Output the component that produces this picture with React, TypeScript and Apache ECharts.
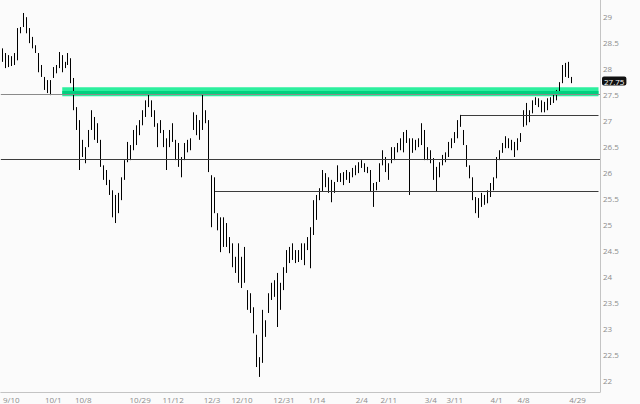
import React, { useEffect, useRef } from "react";
import * as echarts from "echarts";

// Each bar: [open, close, low, high]
const barsSep: number[][] = [
  [28.30, 28.18, 28.12, 28.38], [28.18, 28.10, 28.00, 28.29], [28.10, 28.15, 28.02, 28.25], [28.15, 28.10, 28.04, 28.23],
  [28.10, 28.22, 28.06, 28.29], [28.20, 28.72, 28.15, 28.77], [28.72, 28.75, 28.67, 28.79], [28.80, 29.00, 28.79, 29.06],
  [28.95, 28.72, 28.67, 28.98], [28.72, 28.52, 28.48, 28.77], [28.52, 28.42, 28.38, 28.60], [28.42, 28.32, 28.29, 28.44],
  [28.28, 27.98, 27.92, 28.29], [27.98, 27.88, 27.83, 28.06], [27.80, 27.62, 27.58, 27.83], [27.62, 27.70, 27.52, 27.77],
  [27.70, 27.72, 27.48, 27.77], [27.84, 27.98, 27.81, 28.02], [27.98, 27.95, 27.90, 28.06], [28.02, 28.25, 28.00, 28.31],
  [28.22, 28.05, 27.92, 28.25], [28.05, 28.08, 28.00, 28.12], [28.08, 28.22, 28.06, 28.29], [28.18, 27.76, 27.71, 28.19],
];
const barsOct: number[][] = [
  [27.76, 27.25, 27.19, 27.81], [27.22, 26.90, 26.81, 27.25], [26.95, 26.40, 26.04, 27.00], [26.40, 26.50, 26.29, 26.62],
  [26.45, 26.30, 26.17, 26.48], [26.50, 26.75, 26.48, 26.81], [26.85, 27.10, 26.81, 27.19], [27.02, 26.70, 26.62, 27.06],
  [26.72, 26.88, 26.56, 26.94], [26.60, 26.15, 26.10, 26.62], [26.12, 25.92, 25.85, 26.13], [25.95, 25.80, 25.75, 26.04],
  [25.82, 25.60, 25.56, 25.85], [25.60, 25.20, 25.13, 25.65], [25.20, 25.45, 25.02, 25.56], [25.45, 25.30, 25.21, 25.60],
  [25.50, 25.85, 25.46, 25.90], [25.88, 26.18, 25.85, 26.23], [26.20, 26.50, 26.19, 26.58], [26.48, 26.30, 26.23, 26.52],
  [26.45, 26.75, 26.42, 26.81], [26.75, 26.60, 26.52, 26.90], [26.72, 26.95, 26.71, 27.00], [26.95, 27.15, 26.90, 27.19],
];
const barsNov: number[][] = [
  [27.10, 27.32, 27.06, 27.38], [27.32, 27.40, 27.25, 27.52], [27.35, 27.10, 27.06, 27.38], [27.12, 26.92, 26.87, 27.19],
  [26.90, 26.55, 26.48, 26.94], [26.78, 26.95, 26.75, 27.00], [26.78, 26.55, 26.48, 26.81], [26.60, 26.50, 26.04, 26.65],
  [26.52, 26.75, 26.48, 26.81], [26.75, 26.88, 26.58, 26.94], [26.60, 26.30, 26.23, 26.62], [26.30, 26.50, 26.10, 26.56],
  [26.25, 25.98, 25.90, 26.29], [26.25, 26.50, 26.23, 26.56], [26.50, 26.45, 26.38, 26.62], [26.45, 26.60, 26.42, 26.65],
  [26.85, 27.10, 26.81, 27.15], [27.05, 26.78, 26.71, 27.10], [26.80, 26.95, 26.62, 27.00], [26.95, 27.30, 26.81, 27.52],
  [27.15, 27.00, 26.94, 27.19], [26.98, 26.10, 26.00, 27.00],
];
const barsDec: number[][] = [
  [25.90, 25.40, 24.94, 25.94], [25.40, 25.30, 25.21, 25.90], [25.20, 25.00, 24.88, 25.21], [25.00, 24.70, 24.46, 25.13],
  [24.70, 25.00, 24.56, 25.13], [24.95, 24.65, 24.56, 25.02], [24.65, 24.50, 24.44, 24.75], [24.55, 24.25, 24.17, 24.63],
  [24.25, 24.10, 24.06, 24.37], [24.10, 24.55, 23.87, 24.63], [24.30, 23.85, 23.77, 24.37], [23.90, 24.40, 23.87, 24.56],
  [23.70, 23.45, 23.35, 23.73], [23.45, 23.35, 23.29, 23.67], [23.35, 22.95, 22.90, 23.40], [22.85, 22.35, 22.25, 22.87],
  [22.35, 22.15, 22.06, 22.44], [22.40, 23.25, 22.33, 23.35], [23.10, 22.90, 22.83, 23.15], [23.30, 23.60, 23.29, 23.67],
  [23.60, 23.80, 23.54, 23.87], [23.80, 23.70, 23.60, 23.92], [23.70, 23.95, 23.02, 24.06], [23.80, 23.45, 23.35, 23.87],
  [23.78, 24.10, 23.73, 24.17], [24.10, 24.42, 24.06, 24.50], [24.42, 24.30, 24.25, 24.56], [24.35, 24.55, 24.31, 24.63],
];
const barsJan: number[][] = [
  [24.50, 24.32, 24.25, 24.50], [24.35, 24.45, 24.27, 24.50], [24.40, 24.58, 24.31, 24.63], [24.58, 24.30, 24.21, 24.63],
  [24.52, 24.70, 24.50, 24.75], [24.70, 24.85, 24.15, 24.94], [24.85, 25.35, 24.79, 25.46], [25.35, 25.45, 25.08, 25.56],
  [25.50, 25.62, 25.46, 25.69], [25.65, 25.95, 25.62, 26.04], [25.95, 25.78, 25.71, 25.98], [25.78, 25.70, 25.60, 25.90],
  [25.70, 25.55, 25.42, 25.85], [25.62, 25.75, 25.60, 25.81], [25.85, 26.05, 25.81, 26.13], [25.95, 25.88, 25.81, 25.98],
  [25.88, 25.95, 25.75, 26.00], [25.92, 25.98, 25.85, 26.04], [25.95, 25.85, 25.79, 26.00], [25.92, 26.02, 25.90, 26.08],
  [26.00, 26.08, 25.94, 26.13], [26.05, 26.15, 25.98, 26.19], [26.12, 26.18, 26.08, 26.23], [26.15, 26.05, 26.00, 26.17],
  [26.05, 26.02, 25.98, 26.10], [26.00, 25.70, 25.62, 26.04],
];
const barsFeb: number[][] = [
  [25.70, 25.70, 25.33, 25.79], [25.70, 25.78, 25.65, 25.81], [25.85, 26.10, 25.81, 26.17], [26.15, 26.35, 26.13, 26.42],
  [26.30, 26.10, 26.00, 26.29], [26.10, 25.95, 25.85, 26.17], [26.20, 26.42, 26.17, 26.48], [26.40, 26.30, 26.23, 26.48],
  [26.40, 26.50, 26.38, 26.56], [26.50, 26.60, 26.42, 26.65], [26.58, 26.45, 26.38, 26.77], [26.60, 26.75, 26.56, 26.81],
  [26.60, 26.50, 25.56, 26.65], [26.50, 26.45, 26.37, 26.65], [26.48, 26.55, 26.42, 26.62], [26.55, 26.60, 26.48, 26.65],
  [26.60, 26.85, 26.52, 26.94], [26.80, 26.35, 26.23, 26.81], [26.35, 26.30, 26.23, 26.48], [26.30, 26.25, 26.17, 26.42],
  [26.22, 25.95, 25.85, 26.27], [25.95, 25.80, 25.62, 26.10], [25.92, 26.12, 25.90, 26.19], [26.15, 26.28, 26.13, 26.33],
  [26.28, 26.32, 26.19, 26.38], [26.32, 26.52, 26.29, 26.58], [26.52, 26.60, 26.46, 26.65], [26.60, 26.72, 26.56, 26.77],
];
const barsMar: number[][] = [
  [26.70, 26.95, 26.65, 27.00], [26.95, 26.92, 26.87, 27.10], [26.80, 26.60, 26.52, 26.81], [26.50, 26.18, 26.10, 26.52],
  [26.12, 25.95, 25.88, 26.13], [25.90, 25.52, 25.46, 25.90], [25.50, 25.30, 25.21, 25.52], [25.30, 25.40, 25.12, 25.50],
  [25.40, 25.50, 25.33, 25.60], [25.50, 25.45, 25.37, 25.56], [25.45, 25.60, 25.40, 25.65], [25.58, 25.72, 25.52, 25.79],
  [25.72, 25.85, 25.65, 25.90], [25.90, 26.22, 25.88, 26.29], [26.25, 26.38, 26.23, 26.42], [26.40, 26.50, 26.37, 26.56],
  [26.50, 26.62, 26.46, 26.69], [26.60, 26.52, 26.46, 26.65], [26.52, 26.58, 26.42, 26.62], [26.55, 26.35, 26.29, 26.58],
];
const barsApr: number[][] = [
  [26.45, 26.60, 26.42, 26.65], [26.60, 26.70, 26.58, 26.75], [26.90, 27.10, 26.87, 27.19], [27.10, 27.00, 26.90, 27.33],
  [27.00, 27.15, 26.96, 27.19], [27.15, 27.32, 27.13, 27.38], [27.32, 27.40, 27.29, 27.44], [27.40, 27.30, 27.25, 27.42],
  [27.30, 27.22, 27.15, 27.38], [27.22, 27.30, 27.15, 27.35], [27.28, 27.38, 27.19, 27.42], [27.38, 27.40, 27.29, 27.44],
  [27.40, 27.48, 27.33, 27.52], [27.45, 27.55, 27.38, 27.58], [27.56, 27.70, 27.54, 27.73], [27.72, 28.00, 27.71, 28.06],
  [28.00, 27.90, 27.83, 28.10], [27.90, 28.05, 27.81, 28.12], [27.80, 27.75, 27.71, 27.83],
];

const slotCount = 200;
const dateLabels = ["9/10", "10/1", "10/8", "10/29", "11/12", "12/3", "12/10", "12/31", "1/14", "2/4", "2/11", "3/4", "3/11", "4/1", "4/8", "4/29"];
const dateLabelSlots = [3, 17, 27, 46, 57, 70, 80, 94, 105, 120, 129, 143, 151, 165, 174, 192];

const lastPrice = 27.75;
const zoneLow = 27.46;
const zoneHigh = 27.63;
const zoneMid = 27.545;
const zoneStartSlot = 20;
const supportFull = 26.25;
const resistanceFull = 27.5;
const partialLevels = [25.64, 27.1];
const partialStartSlots = [71, 153];

export default function App() {
  const ref = useRef<HTMLDivElement>(null);
  useEffect(() => {
    if (!ref.current) return;
    const chart = echarts.init(ref.current, undefined, { renderer: "svg" });
    const bars = [...barsSep, ...barsOct, ...barsNov, ...barsDec, ...barsJan, ...barsFeb, ...barsMar, ...barsApr];
    const cats = Array.from({ length: slotCount }, (_, i) => String(i));
    const labelMap: Record<number, string> = {};
    dateLabelSlots.forEach((s, i) => (labelMap[s] = dateLabels[i]));
    const lastSlot = String(slotCount - 1);
    const font = "Open Sans";

    chart.setOption({
      animation: false,
      backgroundColor: "#fbfbfb",
      grid: { left: 0, right: 40, top: 0, bottom: 12, containLabel: false },
      xAxis: {
        type: "category",
        data: cats,
        boundaryGap: true,
        axisLine: { show: true, lineStyle: { color: "#c4c4c4", width: 1 } },
        axisTick: { show: false },
        splitLine: { show: false },
        axisLabel: {
          interval: (idx: number) => labelMap[idx] !== undefined,
          formatter: (_v: string, idx: number) => labelMap[idx] ?? "",
          color: "#8c8c8c",
          fontSize: 8,
          fontFamily: font,
          margin: 3,
        },
      },
      yAxis: {
        type: "value",
        position: "right",
        min: 21.77,
        max: 29.31,
        splitNumber: 15,
        minInterval: 0.5,
        maxInterval: 0.5,
        axisLine: { show: true, lineStyle: { color: "#c4c4c4", width: 1 } },
        axisTick: { show: false },
        splitLine: { show: false },
        axisLabel: {
          showMinLabel: false,
          showMaxLabel: false,
          color: "#8c8c8c",
          fontSize: 8,
          fontFamily: font,
          margin: 3,
        },
      },
      series: [
        {
          type: "line",
          data: [],
          z: 1,
          silent: true,
          markArea: {
            silent: true,
            itemStyle: { color: "#2cef9e" },
            data: [[{ coord: [String(zoneStartSlot), zoneHigh] }, { coord: [lastSlot, zoneLow] }]],
          },
          markLine: {
            silent: true,
            symbol: ["none", "none"],
            label: { show: false },
            data: [
              { yAxis: resistanceFull, lineStyle: { color: "#8a8a8a", width: 1, type: "solid" } },
              { yAxis: supportFull, lineStyle: { color: "#3c3c3c", width: 1, type: "solid" } },
              ...partialLevels.map((v, i) => [
                { coord: [String(partialStartSlots[i]), v], lineStyle: { color: "#3c3c3c", width: 1, type: "solid" } },
                { coord: [lastSlot, v] },
              ]),
              [
                { coord: [String(zoneStartSlot), zoneMid], lineStyle: { color: "#00cf7e", width: 3, type: "solid" } },
                { coord: [lastSlot, zoneMid] },
              ],
            ],
          },
        },
        {
          type: "candlestick",
          data: bars,
          z: 3,
          barWidth: 1,
          itemStyle: {
            color: "#000",
            color0: "#000",
            borderColor: "#000",
            borderColor0: "#000",
            borderWidth: 1,
          },
          markLine: {
            silent: true,
            symbol: ["none", "none"],
            lineStyle: { color: "rgba(0,0,0,0)", width: 0 },
            label: {
              show: true,
              position: "end",
              distance: 2,
              formatter: lastPrice.toFixed(2),
              backgroundColor: "#111",
              color: "#fff",
              borderRadius: 2,
              padding: [1, 2, 0, 2],
              fontSize: 8,
              fontFamily: font,
            },
            data: [{ yAxis: lastPrice }],
          },
        },
      ],
    });
    return () => chart.dispose();
  }, []);
  return (
    <div
      ref={ref}
      style={{ position: "fixed", left: 0, top: 0, width: 640, height: 404 }}
    />
  );
}
